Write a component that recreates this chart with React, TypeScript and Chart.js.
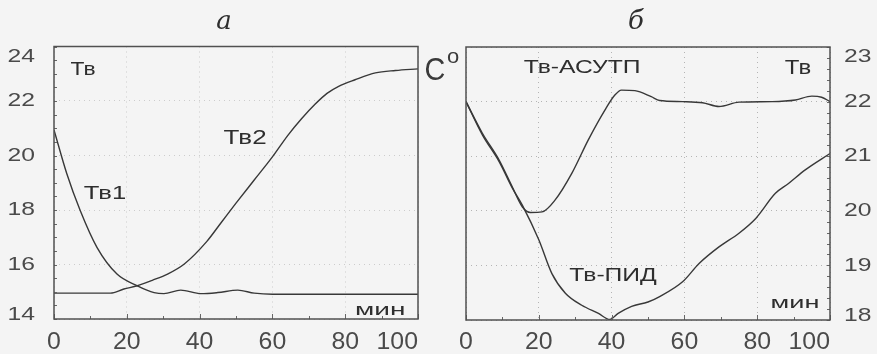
import React, { useEffect, useRef } from "react";
import { Chart, registerables } from "chart.js";

Chart.register(...registerables);

// ---------- data ----------
// Panel а : Тв1 (falls) and Тв2 (rises), time in minutes, temperature °C
const A_T1_X = [0, 3.5, 7.2, 11.8, 17.3, 22.9, 27.5, 30.2, 34.8, 40.4, 45, 50.5, 55, 60, 70, 80, 90, 100];
const A_T1_Y = [20.94, 19.34, 17.98, 16.63, 15.65, 15.22, 14.97, 14.93, 15.06, 14.93, 14.97, 15.06, 14.95, 14.91, 14.91, 14.91, 14.91, 14.91];

const A_T2_X = [0, 10, 15.5, 19.2, 22.9, 27, 31.2, 35.8, 42, 46, 50, 55, 60, 64.3, 68, 71.7, 75, 78.2, 82.7, 88.3, 93.8, 100];
const A_T2_Y = [14.95, 14.95, 14.95, 15.1, 15.22, 15.42, 15.65, 16.02, 16.85, 17.55, 18.25, 19.1, 19.95, 20.75, 21.35, 21.88, 22.28, 22.54, 22.78, 23.03, 23.12, 23.18];

// Panel б : Тв-АСУТП and Тв-ПИД
const B_ASU_X = [0, 4.5, 9.1, 12.7, 15.5, 17.7, 20.9, 24.5, 29.1, 33.6, 38.2, 40.9, 42.7, 46.4, 50.9, 53.2, 59.5, 65, 69.5, 75, 84.1, 90.5, 95, 97.7, 100];
const B_ASU_Y = [22.0, 21.42, 20.93, 20.44, 20.07, 19.97, 19.98, 20.2, 20.69, 21.3, 21.85, 22.12, 22.21, 22.2, 22.09, 22.02, 22.0, 21.98, 21.91, 21.99, 22.0, 22.03, 22.1, 22.08, 22.0];

const B_PID_X = [0, 4.5, 9.1, 12.7, 15.5, 20, 23.6, 27.3, 31.8, 36.4, 39.5, 41.8, 45.5, 50, 53.2, 59.5, 64.1, 69.5, 75, 79.6, 85, 88.6, 93.2, 100];
const B_PID_Y = [22.0, 21.39, 20.9, 20.42, 20.1, 19.47, 18.85, 18.49, 18.27, 18.12, 18.01, 18.12, 18.25, 18.33, 18.43, 18.7, 19.04, 19.34, 19.59, 19.86, 20.32, 20.5, 20.75, 21.05];

const X_TICKS = [0, 20, 40, 60, 80, 100];
const A_Y_TICKS = [14, 16, 18, 20, 22, 24];
const B_Y_TICKS = [18, 19, 20, 21, 22, 23];

const A_TITLE = "а";
const B_TITLE = "б";
const UNIT_TEXT = "C";
const UNIT_DEG = "o";

type Note = { text: string; x: number; y: number; size: number; sx: number };
const A_NOTES: Note[] = [
  { text: "Тв", x: 8, y: 23.14, size: 19, sx: 1.2 },
  { text: "Тв1", x: 14, y: 18.59, size: 19, sx: 1.35 },
  { text: "Тв2", x: 52.5, y: 20.64, size: 20, sx: 1.3 },
  { text: "мин", x: 89.6, y: 14.33, size: 17, sx: 1.65 },
];
const B_NOTES: Note[] = [
  { text: "Тв-АСУТП", x: 31.9, y: 22.62, size: 19, sx: 1.3 },
  { text: "Тв", x: 91.2, y: 22.6, size: 20, sx: 1.2 },
  { text: "Тв-ПИД", x: 40.4, y: 18.81, size: 19, sx: 1.3 },
  { text: "мин", x: 90.4, y: 18.31, size: 17, sx: 1.6 },
];

// ---------- drawing helpers ----------
const SANS = '"Liberation Sans", Arial, sans-serif';
const SERIF = '"DejaVu Serif", "Liberation Serif", serif';
const INK = "#2e2e2e";
const TICK_INK = "#4a4a4a";

function drawText(
  ctx: CanvasRenderingContext2D,
  text: string,
  x: number,
  y: number,
  size: number,
  sx: number,
  align: CanvasTextAlign = "center",
  color = INK,
  family = SANS,
  style = ""
) {
  ctx.save();
  ctx.font = `${style} ${size}px ${family}`;
  ctx.fillStyle = color;
  ctx.textAlign = align;
  ctx.textBaseline = "middle";
  ctx.translate(x, y);
  ctx.scale(sx, 1);
  ctx.fillText(text, 0, 0);
  ctx.restore();
}

function zip(xs: number[], ys: number[]) {
  return xs.map((x, i) => ({ x, y: ys[i] }));
}

type PanelSpec = {
  width: number;
  side: "left" | "right";
  yMin: number;
  yMax: number;
  yTicks: number[];
  yMinorStep: number;
  series: { xs: number[]; ys: number[] }[];
  notes: Note[];
  title: string;
  pad: { left: number; right: number; top: number };
  axisSize: number;
  xAxisH: number;
  gridColor: string;
  unit: boolean;
};

function makeConfig(spec: PanelSpec): any {
  const plugin = {
    id: "panelDecor",
    afterDraw(chart: any) {
      const ctx: CanvasRenderingContext2D = chart.ctx;
      const ca = chart.chartArea;
      const xs = chart.scales.x;
      const ys = chart.scales.y;
      // minor ticks
      ctx.save();
      ctx.strokeStyle = "#666";
      ctx.lineWidth = 1;
      ctx.beginPath();
      for (let v = 0; v <= 100; v += 10) {
        const px = Math.round(xs.getPixelForValue(v)) + 0.5;
        const len = v % 20 === 0 ? 5 : 3;
        ctx.moveTo(px, ca.bottom);
        ctx.lineTo(px, ca.bottom - len);
      }
      for (let v = spec.yMin; v <= spec.yMax + 1e-6; v += spec.yMinorStep) {
        const py = Math.round(ys.getPixelForValue(v)) + 0.5;
        if (spec.side === "left") {
          ctx.moveTo(ca.left, py);
          ctx.lineTo(ca.left + 3, py);
        } else {
          ctx.moveTo(ca.right, py);
          ctx.lineTo(ca.right - 3, py);
        }
      }
      ctx.stroke();
      // frame
      ctx.strokeStyle = "#505050";
      ctx.lineWidth = 1.5;
      ctx.strokeRect(ca.left, ca.top, ca.right - ca.left, ca.bottom - ca.top);
      ctx.restore();

      // x tick labels
      X_TICKS.forEach((v, i) => {
        const px = xs.getPixelForValue(v);
        if (i === X_TICKS.length - 1) {
          drawText(ctx, String(v), ca.right, 343, 23, 1.08, "right", TICK_INK);
        } else {
          drawText(ctx, String(v), px, 343, 23, 1.08, "center", TICK_INK);
        }
      });
      // y tick labels
      spec.yTicks.forEach((v) => {
        let py = ys.getPixelForValue(v);
        py = Math.min(Math.max(py, ca.top + 10), ca.bottom - 4);
        if (spec.side === "left") {
          drawText(ctx, String(v), ca.left - 19, py, 19, 1.3, "right", TICK_INK);
        } else {
          drawText(ctx, String(v), ca.right + 14, py, 19, 1.3, "left", TICK_INK);
        }
      });
      // title
      drawText(ctx, spec.title, (ca.left + ca.right) / 2 - 12, 22, 26, 1.0, "center", INK, SERIF, "italic");
      // notes
      spec.notes.forEach((n) => {
        drawText(ctx, n.text, xs.getPixelForValue(n.x), ys.getPixelForValue(n.y), n.size, n.sx, "center", INK);
      });
      // unit C°
      if (spec.unit) {
        drawText(ctx, UNIT_TEXT, ca.left - 31, 71, 32, 0.9, "center", "#3a3a3a", SANS);
        drawText(ctx, UNIT_DEG, ca.left - 13, 57, 20, 1.1, "center", "#3a3a3a", SANS);
      }
    },
  };

  return {
    type: "line",
    data: {
      datasets: spec.series.map((s) => ({
        data: zip(s.xs, s.ys),
        borderColor: "#383838",
        borderWidth: 1.4,
        pointRadius: 0,
        fill: false,
        cubicInterpolationMode: "monotone",
      })),
    },
    options: {
      responsive: false,
      animation: false,
      devicePixelRatio: 1,
      layout: { padding: { left: spec.pad.left, right: spec.pad.right, top: spec.pad.top, bottom: 0 } },
      plugins: { legend: { display: false }, tooltip: { enabled: false }, title: { display: false } },
      scales: {
        x: {
          type: "linear",
          min: 0,
          max: 100,
          afterBuildTicks: (s: any) => {
            s.ticks = X_TICKS.map((v) => ({ value: v }));
          },
          ticks: { display: false },
          grid: { color: spec.gridColor, lineWidth: 1, drawTicks: false },
          border: { display: false, dash: [1, 4] },
          afterFit: (s: any) => {
            s.height = spec.xAxisH;
          },
        },
        y: {
          type: "linear",
          position: spec.side,
          min: spec.yMin,
          max: spec.yMax,
          afterBuildTicks: (s: any) => {
            s.ticks = spec.yTicks.map((v) => ({ value: v }));
          },
          ticks: { display: false },
          grid: { color: spec.gridColor, lineWidth: 1, drawTicks: false },
          border: { display: false, dash: [1, 4] },
          afterFit: (s: any) => {
            s.width = spec.axisSize;
          },
        },
      },
    },
    plugins: [plugin],
  };
}

const SPLIT = 420;
const PAGE_W = 877;
const PAGE_H = 354;

function Panel({ spec, left }: { spec: PanelSpec; left: number }) {
  const ref = useRef<HTMLCanvasElement | null>(null);
  useEffect(() => {
    if (!ref.current) return;
    const chart = new Chart(ref.current, makeConfig(spec));
    return () => chart.destroy();
  }, [spec]);
  return (
    <canvas
      ref={ref}
      width={spec.width}
      height={PAGE_H}
      style={{ position: "absolute", left, top: 0, width: spec.width, height: PAGE_H }}
    />
  );
}

const SPEC_A: PanelSpec = {
  width: SPLIT,
  side: "left",
  yMin: 14,
  yMax: 24,
  yTicks: A_Y_TICKS,
  yMinorStep: 0.5,
  series: [
    { xs: A_T1_X, ys: A_T1_Y },
    { xs: A_T2_X, ys: A_T2_Y },
  ],
  notes: A_NOTES,
  title: A_TITLE,
  pad: { left: 0, right: 2, top: 46.5 },
  axisSize: 54,
  xAxisH: 35,
  gridColor: "#cccccc",
  unit: false,
};

const SPEC_B: PanelSpec = {
  width: PAGE_W - SPLIT,
  side: "right",
  yMin: 18,
  yMax: 23,
  yTicks: B_Y_TICKS,
  yMinorStep: 0.2,
  series: [
    { xs: B_ASU_X, ys: B_ASU_Y },
    { xs: B_PID_X, ys: B_PID_Y },
  ],
  notes: B_NOTES,
  title: B_TITLE,
  pad: { left: 46, right: 0, top: 47 },
  axisSize: 47,
  xAxisH: 34,
  gridColor: "#b4b4b4",
  unit: true,
};

export default function App() {
  return (
    <div
      style={{
        position: "fixed",
        left: 0,
        top: 0,
        width: PAGE_W,
        height: PAGE_H,
        background: "#f4f4f4",
        overflow: "hidden",
      }}
    >
      <Panel spec={SPEC_A} left={0} />
      <Panel spec={SPEC_B} left={SPLIT} />
    </div>
  );
}
